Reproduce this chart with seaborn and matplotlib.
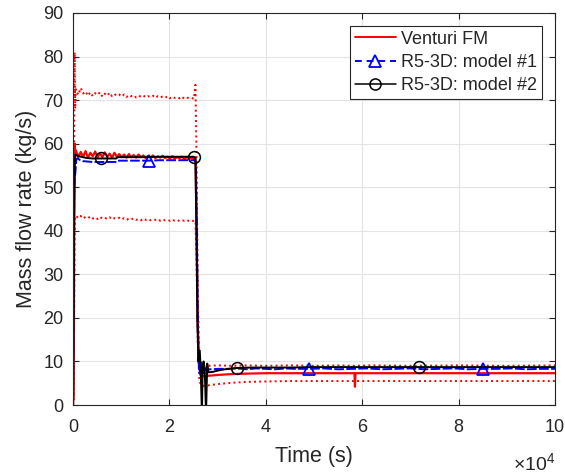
import numpy as np
import pandas as pd
import matplotlib
matplotlib.use("Agg")
import matplotlib.pyplot as plt
from matplotlib.lines import Line2D
import seaborn as sns

# ---------------- data (time in s, mass flow rate in kg/s) ----------------
venturi_t = [0, 150, 250, 350, 450,
             600, 1100, 1600, 2100, 2600, 3100, 3600, 4100, 4600, 5100,
             5600, 6100, 6600, 7100, 7600, 8100, 8600, 9100, 9600, 10100,
             10600, 11100, 11600, 12100, 12600, 13100, 13600, 14100, 14600, 15100,
             15600, 16100, 16600, 17100, 17600, 18100, 18600, 19100, 19600, 20100,
             20600, 21100, 21600, 22100, 22600, 23100, 23600, 24100, 24600, 25100,
             25400, 25600, 25900, 26200, 26500, 27000, 28000, 30000, 33000, 36000,
             40000, 45000, 50000, 55000, 58400, 58500, 58600, 62000, 70000, 80000,
             90000, 100000]

venturi = [0, 2, 40, 60, 58.5,
           58.4, 56.9, 58.1, 57.0, 58.3, 56.8, 57.9, 57.1, 58.2, 56.9,
           57.8, 56.9, 58.0, 57.0, 57.7, 56.8, 57.9, 57.0, 57.6, 56.9,
           57.5, 56.8, 57.6, 56.9, 57.4, 56.8, 57.5, 56.9, 57.3, 56.7,
           57.2, 56.8, 57.3, 56.7, 57.1, 56.8, 57.2, 56.7, 57.0, 56.6,
           57.1, 56.6, 56.9, 56.7, 57.0, 56.5, 56.9, 56.6, 56.8, 56.5,
           56.5, 45, 18, 8.5, 6.8, 6.6, 6.7, 6.9, 7.1, 7.2,
           7.3, 7.3, 7.3, 7.3, 7.3, 4.2, 7.3, 7.3, 7.3, 7.3,
           7.3, 7.3]

venturi_hi = [0, 2, 60, 81, 68,
              72.5, 71.2, 72.8, 71.5, 72.0, 71.0, 71.8, 70.9, 71.6, 71.2,
              71.8, 70.8, 71.5, 71.0, 71.7, 70.9, 71.4, 71.0, 71.3, 70.8,
              71.3, 70.7, 71.2, 70.9, 71.1, 70.6, 71.0, 70.8, 71.1, 70.6,
              70.9, 70.7, 71.0, 70.5, 70.9, 70.6, 70.8, 70.5, 70.9, 70.4,
              70.8, 70.5, 70.7, 70.4, 70.8, 70.3, 70.6, 70.4, 70.5, 70.3,
              73.5, 60, 25, 11, 9.5, 9.0, 9.0, 9.1, 9.0, 9.1,
              9.0, 9.1, 9.0, 9.1, 9.0, 9.0, 9.0, 9.1, 9.0, 9.1,
              9.0, 9.1]

venturi_lo = [0, 1, 25, 38, 43,
              43.5, 42.9, 43.4, 42.8, 43.2, 42.9, 43.3, 42.8, 43.1, 42.7,
              43.2, 42.8, 43.0, 42.7, 43.1, 42.6, 42.9, 42.7, 43.0, 42.6,
              42.9, 42.5, 42.8, 42.6, 42.9, 42.5, 42.7, 42.4, 42.8, 42.5,
              42.7, 42.4, 42.6, 42.5, 42.7, 42.3, 42.6, 42.4, 42.5, 42.3,
              42.6, 42.3, 42.5, 42.2, 42.4, 42.3, 42.5, 42.2, 42.4, 42.2,
              42.3, 35, 14, 6, 4.6, 4.4, 4.5, 4.8, 5.1, 5.3,
              5.4, 5.5, 5.5, 5.5, 5.5, 5.5, 5.5, 5.5, 5.5, 5.5,
              5.5, 5.5]

model1_t = [0, 150, 250, 350, 500, 700, 1000, 1500, 2000, 3000,
            4000, 5000, 6000, 7000, 8000, 9000, 9200, 10000, 12000, 14000,
            15800, 18000, 20000, 22000, 24000, 25300, 25500, 25700, 25900, 26100,
            26300, 26500, 26700, 26900, 27100, 27300, 27600, 28000, 29000, 30000,
            32000, 34000, 36000, 38000, 40000, 42000, 44000, 46000, 49000, 52000,
            55000, 58000, 61000, 64000, 67000, 70000, 73000, 76000, 79000, 82000,
            85000, 88000, 91000, 94000, 97000, 100000]
model1 = [0, 30, 50, 52, 53.5, 56.5, 56.6, 56.2, 56.0, 55.9,
          55.8, 55.8, 55.8, 55.8, 55.8, 55.8, 56.1, 56.1, 56.1, 56.1,
          56.1, 56.2, 56.2, 56.2, 56.2, 56.2, 55.8, 40, 18, 9,
          7.2, 9.8, 6.8, 9.0, 7.3, 8.6, 7.9, 8.2, 8.2, 8.3,
          8.3, 8.4, 8.2, 8.4, 8.3, 8.2, 8.4, 8.3, 8.3, 8.4,
          8.2, 8.3, 8.4, 8.2, 8.3, 8.4, 8.2, 8.3, 8.4, 8.2,
          8.3, 8.3, 8.4, 8.2, 8.3, 8.3]
model1_marker_t = [15800, 49000, 85000]

model2_t = [0, 150, 250, 350, 500, 1000, 2000, 3000, 4000, 5800,
            7000, 9000, 9200, 12000, 15000, 18000, 21000, 25000, 25400, 25600,
            25800, 26000, 26300, 26500, 26750, 26900, 27100, 27350, 27600, 27850,
            28100, 29000, 30000, 31500, 34000, 37000, 40000, 45000, 50000, 55000,
            60000, 65000, 71800, 76000, 80000, 85000, 90000, 95000, 100000]
model2 = [0, 25, 45, 55, 57.5, 57.2, 56.9, 56.7, 56.6, 56.6,
          56.6, 56.6, 56.9, 56.9, 56.9, 57.0, 57.0, 57.0, 56.8, 40,
          20, 10, 12.5, 8, -2, 9, 10, 7.5, -2, 9.5,
          7.5, 7.6, 7.9, 8.2, 8.5, 8.6, 8.6, 8.6, 8.7, 8.7,
          8.7, 8.7, 8.7, 8.7, 8.7, 8.7, 8.7, 8.7, 8.7]
model2_marker_t = [5800, 25000, 34000, 71800]

labels = ["Venturi FM", "R5-3D: model #1", "R5-3D: model #2"]
x_ticks = [0, 20000, 40000, 60000, 80000, 100000]
x_ticklabels = ["0", "2", "4", "6", "8", "10"]
y_ticks = [0, 10, 20, 30, 40, 50, 60, 70, 80, 90]

# ---------------- style ----------------
sns.set_style("ticks")
plt.rcParams["font.family"] = ["Liberation Sans", "DejaVu Sans"]
plt.rcParams["mathtext.fontset"] = "custom"
plt.rcParams["mathtext.rm"] = "Liberation Sans"
plt.rcParams["mathtext.it"] = "Liberation Sans"

RED = "#ff0000"
BLUE = "#0000ff"
BLACK = "#000000"
AX_COL = "#262626"

fig = plt.figure(figsize=(5.65, 4.74), dpi=100)
ax = fig.add_axes([73 / 565, 69 / 474, 482 / 565, 392 / 474])

# Venturi with uncertainty bounds
sns.lineplot(x=venturi_t, y=venturi_hi, ax=ax, color=RED, lw=1.4, linestyle=":",
             sort=False, estimator=None)
sns.lineplot(x=venturi_t, y=venturi_lo, ax=ax, color=RED, lw=1.4, linestyle=":",
             sort=False, estimator=None)
sns.lineplot(x=venturi_t, y=venturi, ax=ax, color=RED, lw=1.6,
             sort=False, estimator=None)

m1_idx = [model1_t.index(t) for t in model1_marker_t]
sns.lineplot(x=model1_t, y=model1, ax=ax, color=BLUE, lw=1.4, dashes=False,
             linestyle=(0, (5, 1.2)), marker="^", markevery=m1_idx, markersize=9,
             markerfacecolor="none", markeredgecolor=BLUE, markeredgewidth=1.3,
             sort=False, estimator=None)

m2_idx = [model2_t.index(t) for t in model2_marker_t]
sns.lineplot(x=model2_t, y=model2, ax=ax, color=BLACK, lw=1.4,
             marker="o", markevery=m2_idx, markersize=8.5,
             markerfacecolor="none", markeredgecolor=BLACK, markeredgewidth=1.1,
             sort=False, estimator=None)

ax.set_xlim(0, 100000)
ax.set_ylim(0, 90)
ax.set_xticks(x_ticks)
ax.set_xticklabels(x_ticklabels)
ax.set_yticks(y_ticks)
ax.grid(True, color="#e3e3e3", lw=0.8)
ax.set_axisbelow(True)
ax.tick_params(direction="in", length=4.5, width=0.8, colors=AX_COL,
               labelsize=13, top=True, right=True, pad=7)
ax.tick_params(axis="x", pad=10)
for s in ax.spines.values():
    s.set_color(AX_COL)
    s.set_linewidth(0.8)

ax.set_xlabel("Time (s)", fontsize=15.5, color=AX_COL, labelpad=7)
ax.set_ylabel("Mass flow rate (kg/s)", fontsize=15.5, color=AX_COL, labelpad=4)
ax.text(1.0, -0.166, r"$\times10^{4}$", transform=ax.transAxes, ha="right",
        va="baseline", fontsize=14, color=AX_COL)

handles = [
    Line2D([], [], color=RED, lw=1.4),
    Line2D([], [], color=BLUE, lw=1.4, linestyle=(0, (3.5, 2.5)), marker="^",
           markersize=9, markerfacecolor="none", markeredgecolor=BLUE,
           markeredgewidth=1.3),
    Line2D([], [], color=BLACK, lw=1.1, marker="o", markersize=8,
           markerfacecolor="none", markeredgecolor=BLACK, markeredgewidth=1.1),
]
leg = ax.legend(handles, labels, loc="upper right",
                bbox_to_anchor=((542 - 73) / 482, (405 - 26) / 392),
                borderaxespad=0, fontsize=13, frameon=True, fancybox=False,
                framealpha=1, edgecolor=AX_COL, handlelength=2.3,
                handletextpad=0.3, labelspacing=0.35, borderpad=0.25,
                numpoints=1)
leg.get_frame().set_linewidth(0.8)

fig.savefig("out.png", dpi=100)
